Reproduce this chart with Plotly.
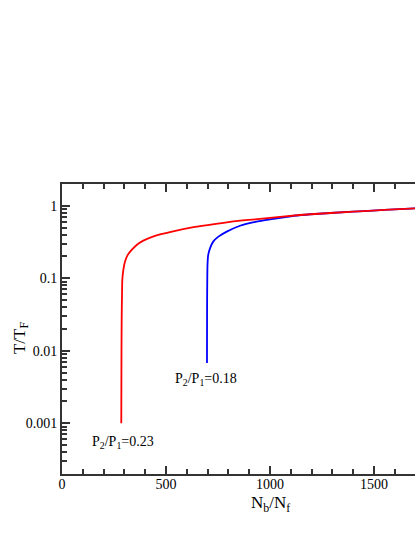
import plotly.graph_objects as go

# ---- data ----
red_x = [285, 285.5, 286, 287, 288.5, 290, 295, 303, 316, 335, 359, 391, 447,
         529, 639, 808, 856, 928, 1144, 1216, 1400, 1550, 1700, 1750]
red_y = [0.001, 0.003, 0.01, 0.03, 0.06, 0.095, 0.13, 0.17, 0.21, 0.246, 0.288, 0.33, 0.385,
         0.44, 0.51, 0.60, 0.625, 0.65, 0.745, 0.77, 0.83, 0.875, 0.92, 0.935]

blue_x = [697, 697.3, 697.7, 698.5, 699.5, 703, 712, 727, 752, 792, 856, 930, 1000,
          1100, 1150, 1216, 1400, 1550, 1700, 1750]
blue_y = [0.0068, 0.02, 0.05, 0.1, 0.153, 0.21, 0.26, 0.32, 0.375, 0.44, 0.53, 0.60, 0.65,
          0.715, 0.745, 0.77, 0.83, 0.875, 0.92, 0.935]

x_tickvals = [0, 500, 1000, 1500]
x_minor = [v for v in range(0, 2001, 100)]
y_tickvals = [0.001, 0.01, 0.1, 1]
y_ticktext = ["0.001", "0.01", "0.1", "1"]
y_minor = [m * 10.0 ** e for e in range(-4, 1) for m in range(2, 10)]

labels = ["P<sub>2</sub>/P<sub>1</sub>=0.23", "P<sub>2</sub>/P<sub>1</sub>=0.18"]
label_x = [135, 534]
label_logy = [-3.26, -2.40]

FONT = "Liberation Serif"
AX = "#333333"

fig = go.Figure()
fig.add_trace(go.Scatter(x=blue_x, y=blue_y, mode="lines",
                         line=dict(color="#0000ff", width=1.8, shape="spline", smoothing=0.6),
                         showlegend=False))
fig.add_trace(go.Scatter(x=red_x, y=red_y, mode="lines",
                         line=dict(color="#ff0000", width=1.8, shape="spline", smoothing=0.6),
                         showlegend=False))

for t, lx, ly in zip(labels, label_x, label_logy):
    fig.add_annotation(x=lx, y=ly, text=t, showarrow=False, xanchor="left", yanchor="middle",
                       font=dict(family=FONT, size=14, color="black"))

fig.add_annotation(xref="paper", yref="paper", x=0.5, y=-0.058, yanchor="top", xanchor="center",
                   text="N<sub>b</sub>/N<sub>f</sub>", showarrow=False,
                   font=dict(family=FONT, size=17, color="black"))
fig.add_annotation(xref="paper", yref="paper", x=-0.10, y=0.47, textangle=-90,
                   xanchor="center", yanchor="middle",
                   text="T/T<sub>F</sub>", showarrow=False,
                   font=dict(family=FONT, size=17, color="black"))

fig.update_layout(
    width=500, height=537,
    margin=dict(l=62, r=22, t=184, b=63),
    paper_bgcolor="white", plot_bgcolor="white",
    font=dict(family=FONT, size=14, color="black"),
    xaxis=dict(range=[0, 2000], tickmode="array", tickvals=x_tickvals,
               ticks="inside", ticklen=8, tickwidth=2, tickcolor=AX,
               showline=True, linecolor=AX, linewidth=2, mirror="ticks",
               showgrid=False, zeroline=False, ticklabelstandoff=-4,
               minor=dict(tickmode="array", tickvals=x_minor, ticks="inside", ticklen=5,
                          tickcolor=AX, tickwidth=2)),
    yaxis=dict(type="log", range=[-3.7, 0.3], tickmode="array", tickvals=y_tickvals,
               ticktext=y_ticktext,
               ticks="inside", ticklen=8, tickwidth=2, tickcolor=AX,
               showline=True, linecolor=AX, linewidth=2, mirror="ticks",
               showgrid=False, zeroline=False,
               minor=dict(tickmode="array", tickvals=y_minor, ticks="inside", ticklen=5,
                          tickcolor=AX, tickwidth=2)),
)

fig.write_html("out.html", config={"displayModeBar": False},
               post_script="document.body.style.margin='0';document.body.style.overflow='hidden';")
